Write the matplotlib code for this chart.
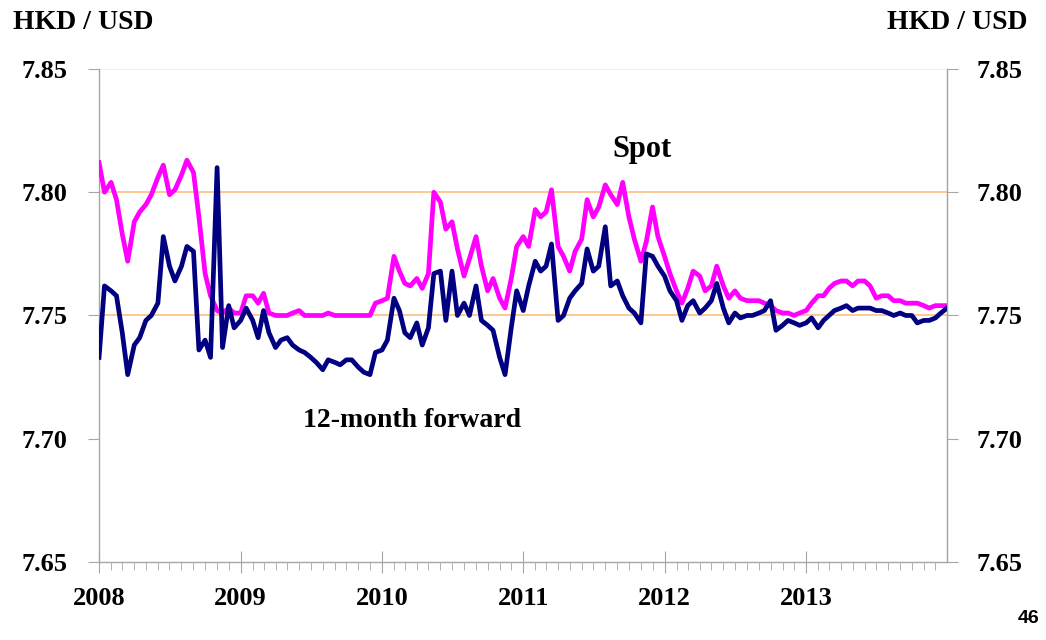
import matplotlib
matplotlib.use('Agg')
import matplotlib.pyplot as plt
import matplotlib.dates as mdates
import pandas as pd

# HKD per USD, semi-monthly readings (1st and 15th), Jan 2008 - Dec 2013
spot = [
    # 2008
    7.812, 7.800, 7.804, 7.797, 7.783, 7.772, 7.788, 7.792, 7.795, 7.799, 7.806, 7.811,
    7.799, 7.801, 7.807, 7.813, 7.808, 7.790, 7.767, 7.758, 7.752, 7.751, 7.753, 7.751,
    # 2009
    7.751, 7.758, 7.758, 7.755, 7.759, 7.751, 7.750, 7.750, 7.750, 7.751, 7.752, 7.750,
    7.750, 7.750, 7.750, 7.751, 7.750, 7.750, 7.750, 7.750, 7.750, 7.750, 7.750, 7.755,
    # 2010
    7.756, 7.757, 7.774, 7.768, 7.763, 7.762, 7.765, 7.761, 7.767, 7.800, 7.796, 7.785,
    7.788, 7.777, 7.766, 7.773, 7.782, 7.770, 7.760, 7.765, 7.757, 7.753, 7.765, 7.778,
    # 2011
    7.782, 7.778, 7.793, 7.790, 7.792, 7.801, 7.778, 7.774, 7.768, 7.776, 7.781, 7.797,
    7.790, 7.794, 7.803, 7.799, 7.795, 7.804, 7.790, 7.781, 7.772, 7.780, 7.794, 7.782,
    # 2012
    7.774, 7.767, 7.760, 7.755, 7.761, 7.768, 7.766, 7.760, 7.762, 7.770, 7.762, 7.757,
    7.760, 7.757, 7.756, 7.756, 7.756, 7.755, 7.754, 7.752, 7.751, 7.751, 7.750, 7.751,
    # 2013
    7.752, 7.755, 7.758, 7.758, 7.761, 7.763, 7.764, 7.764, 7.762, 7.764, 7.764, 7.762,
    7.757, 7.758, 7.758, 7.756, 7.756, 7.755, 7.755, 7.755, 7.754, 7.753, 7.754, 7.754,
    7.754,
]

forward_12m = [
    # 2008
    7.733, 7.762, 7.760, 7.758, 7.743, 7.726, 7.738, 7.741, 7.748, 7.750, 7.755, 7.782,
    7.770, 7.764, 7.770, 7.778, 7.776, 7.736, 7.740, 7.733, 7.810, 7.737, 7.754, 7.745,
    # 2009
    7.748, 7.753, 7.748, 7.741, 7.752, 7.743, 7.737, 7.740, 7.741, 7.738, 7.736, 7.735,
    7.733, 7.731, 7.728, 7.732, 7.731, 7.730, 7.732, 7.732, 7.729, 7.727, 7.726, 7.735,
    # 2010
    7.736, 7.740, 7.757, 7.752, 7.743, 7.741, 7.747, 7.738, 7.745, 7.767, 7.768, 7.748,
    7.768, 7.750, 7.755, 7.750, 7.762, 7.748, 7.746, 7.744, 7.733, 7.726, 7.745, 7.760,
    # 2011
    7.752, 7.762, 7.772, 7.768, 7.770, 7.779, 7.748, 7.750, 7.757, 7.760, 7.763, 7.777,
    7.768, 7.770, 7.786, 7.762, 7.764, 7.758, 7.753, 7.751, 7.747, 7.775, 7.774, 7.770,
    # 2012
    7.766, 7.760, 7.756, 7.748, 7.754, 7.756, 7.751, 7.753, 7.756, 7.763, 7.753, 7.747,
    7.751, 7.749, 7.750, 7.750, 7.751, 7.752, 7.756, 7.744, 7.746, 7.748, 7.747, 7.746,
    # 2013
    7.747, 7.749, 7.745, 7.748, 7.750, 7.752, 7.753, 7.754, 7.752, 7.753, 7.753, 7.753,
    7.752, 7.752, 7.751, 7.750, 7.751, 7.750, 7.750, 7.747, 7.748, 7.748, 7.749, 7.751,
    7.753,
]

dates = list(pd.date_range('2008-01-01', '2013-12-15', freq='SMS')) + [pd.Timestamp('2013-12-31')]

y_ticks = [7.65, 7.70, 7.75, 7.80, 7.85]
y_labels = ['7.65', '7.70', '7.75', '7.80', '7.85']

SERIF = 'Liberation Serif'
GREY = '#a6a6a6'

fig = plt.figure(figsize=(10.46, 6.40), dpi=100)
ax = fig.add_axes([0.0947, 0.1219, 0.8107, 0.7703])

# band reference lines
ax.axhline(7.85, color='#ffe6cc', lw=1.2, zorder=1)
ax.axhline(7.80, color='#ffc890', lw=1.4, zorder=1)
ax.axhline(7.75, color='#ffc890', lw=1.4, zorder=1)

ax.plot(dates, spot, color='#ff00ff', lw=3.4, zorder=3, solid_joinstyle='round')
ax.plot(dates, forward_12m, color='#000080', lw=3.4, zorder=4, solid_joinstyle='round')

ax.set_xlim(pd.Timestamp('2008-01-01'), pd.Timestamp('2013-12-31'))
ax.set_ylim(7.65, 7.85)

ax.xaxis.set_major_locator(mdates.YearLocator())
ax.xaxis.set_major_formatter(mdates.DateFormatter('%Y'))
ax.xaxis.set_minor_locator(mdates.MonthLocator())
ax.set_yticks(y_ticks)
ax.set_yticklabels(y_labels)

for s in ['left', 'right', 'bottom']:
    ax.spines[s].set_color(GREY)
    ax.spines[s].set_linewidth(1.0)
ax.spines['top'].set_visible(False)

ax.tick_params(axis='x', which='major', direction='inout', length=16, color=GREY, pad=10)
ax.tick_params(axis='x', which='minor', direction='out', length=6, color=GREY)
ax.tick_params(axis='y', which='major', direction='out', length=8, color=GREY, pad=15)

ax2 = ax.twinx()
ax2.set_ylim(7.65, 7.85)
ax2.set_yticks(y_ticks)
ax2.set_yticklabels(y_labels)
ax2.spines['top'].set_visible(False)
ax2.spines['right'].set_color(GREY)
ax2.spines['left'].set_visible(False)
ax2.spines['bottom'].set_visible(False)
ax2.yaxis.set_tick_params(which='major', direction='out', length=8, color=GREY, pad=13)

for a in (ax, ax2):
    for lab in a.get_xticklabels() + a.get_yticklabels():
        lab.set_fontfamily(SERIF)
        lab.set_fontweight('bold')
        lab.set_fontsize(19)

fig.text(0.012, 0.965, 'HKD / USD', family=SERIF, weight='bold', fontsize=20, va='center', ha='left')
fig.text(0.982, 0.965, 'HKD / USD', family=SERIF, weight='bold', fontsize=20, va='center', ha='right')

ax.text(pd.Timestamp('2011-11-05'), 7.8175, 'Spot', family=SERIF, weight='bold', fontsize=22,
        ha='center', va='center')
ax.text(pd.Timestamp('2010-03-20'), 7.7075, '12-month forward', family=SERIF, weight='bold',
        fontsize=20, ha='center', va='center')

fig.text(0.994, 0.034, '46', family='Liberation Sans', weight='bold', fontsize=14, ha='right', va='center')

plt.savefig('out.png', dpi=100)
